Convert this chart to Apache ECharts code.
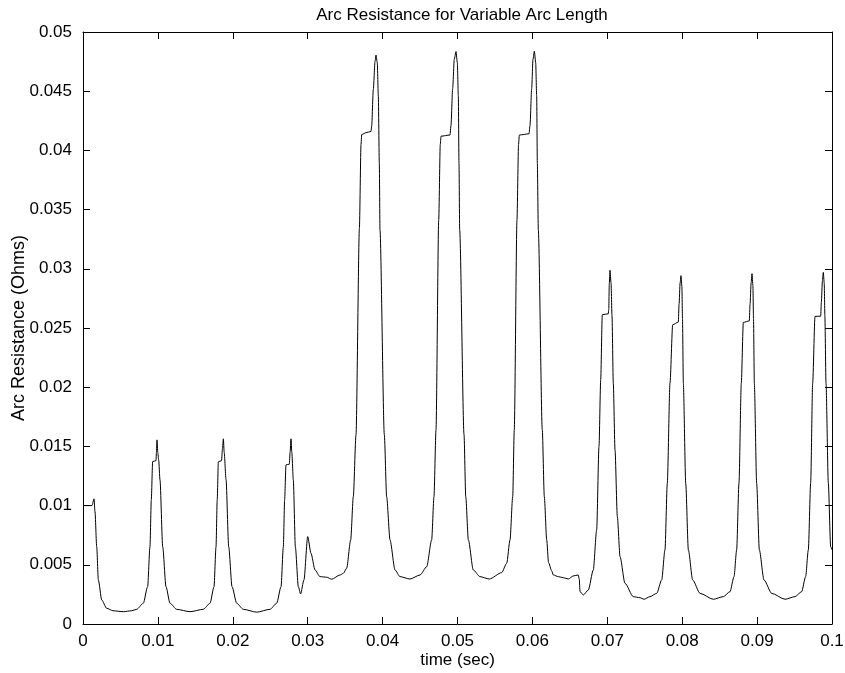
<!DOCTYPE html>
<html>
<head>
<meta charset="utf-8">
<script src="https://cdn.jsdelivr.net/npm/echarts@6/dist/echarts.min.js"></script>
<style>html,body{margin:0;padding:0;background:#fff}#c{width:845px;height:673px}</style>
</head>
<body>
<div id="c"></div>
<script>
const chartTitle = "Arc Resistance for Variable Arc Length";
const xName = "time (sec)";
const yName = "Arc Resistance (Ohms)";
const xTicks = ["0","0.01","0.02","0.03","0.04","0.05","0.06","0.07","0.08","0.09","0.1"];
const yTicks = ["0","0.005","0.01","0.015","0.02","0.025","0.03","0.035","0.04","0.045","0.05"];

const time = [
0,0.0012,0.00147,0.0016,0.00183,0.00205,0.0025,0.00316,0.004,0.00538,0.0065,0.00716,0.00805,0.00863,0.00894,0.00912,0.0093,0.00975,0.0098,0.00988,0.00998,0.0101,0.01028,0.01064,0.01108,0.01162,0.0125,0.01429,0.01606,0.01696,0.01749,0.01776,0.01792,0.01807,0.0185,0.01862,0.01874,0.01885,0.0191,0.01945,0.0199,0.02052,0.0214,0.02319,0.02497,0.02586,0.02644,0.02675,0.02692,0.0271,0.02755,0.02765,0.02777,0.02788,0.02808,0.02835,0.02875,0.02905,0.0295,0.03,0.03044,0.03098,0.03164,0.03254,0.0332,0.03431,
0.03476,0.0352,0.03574,0.03609,0.03645,0.0369,0.03712,0.03721,0.0378,0.03845,0.03854,0.03876,0.03899,0.03912,0.03929,0.03943,0.03956,0.03965,0.04023,0.04054,0.04099,0.04166,0.04232,0.04366,0.045,0.04589,0.04655,0.04686,0.04713,0.04749,0.0477,0.0478,0.049,0.04913,0.04935,0.04957,0.0498,0.04998,0.05011,0.0502,0.05029,0.05087,0.0511,0.05145,0.05211,0.053,0.05425,0.0559,0.05657,0.05701,0.05737,0.05758,0.05794,0.05815,0.05826,0.05955,0.05968,0.0599,0.06008,0.06026,0.06044,0.06057,0.06066,0.06079,0.06132,0.06159,0.06191,0.06215,0.06257,0.06279,0.06346,0.06413,0.0648,0.06546,0.06613,0.06625,0.06636,0.0668,0.06746,0.06813,0.06858,0.06889,0.06912,0.06933,0.07013,0.07019,0.07027,0.07036,0.0705,0.07063,
0.0708,0.07103,0.07134,0.0717,0.07236,0.07347,0.07437,0.0749,0.0757,0.0766,0.07726,0.0777,0.07801,0.07837,0.07873,0.07948,0.07958,0.07972,0.07984,0.07996,0.08004,0.08015,0.08047,0.08082,0.0814,0.08238,0.08415,0.08549,0.08638,0.08692,0.08727,0.08758,0.08789,0.08816,0.08896,0.08906,0.0892,0.08932,0.08944,0.08952,0.08963,0.08994,0.0903,0.09092,0.09195,0.09373,0.09506,0.09595,0.09648,0.09684,0.09715,0.09742,0.09773,0.09849,0.09858,0.09872,0.09884,0.09896,0.09905,0.0992,0.09951,0.09982,0.1
];
const resistance = [
0.0100,0.0100,0.01057,0.0095,0.00653,0.00372,0.00203,0.00133,0.00112,0.00104,0.00112,0.00124,0.00175,0.00315,0.00653,0.0105,0.01372,0.0138,0.0145,0.01555,0.0145,0.01386,0.01217,0.00653,0.00315,0.00175,0.00124,0.00104,0.00124,0.00175,0.00315,0.00653,0.0105,0.0137,0.0138,0.0148,0.01564,0.0145,0.01217,0.00653,0.00315,0.00175,0.00124,0.00100,0.00124,0.00175,0.00315,0.00653,0.0105,0.01344,0.0135,0.0145,0.01564,0.0145,0.01217,0.00653,0.00315,0.00254,0.00372,0.00738,0.00597,0.00456,0.0040,0.00395,0.00378,0.00414,
0.00428,0.00471,0.0071,0.01076,0.0160,0.0334,0.0405,0.04134,0.0415,0.0416,0.04204,0.04514,0.04753,0.04805,0.0474,0.04457,0.03894,0.0333,0.0160,0.01076,0.0071,0.00456,0.0040,0.0038,0.00414,0.00484,0.0071,0.01076,0.0164,0.0341,0.0405,0.0412,0.0413,0.0421,0.0452,0.0477,0.04835,0.0474,0.0446,0.0389,0.0333,0.0160,0.01076,0.0071,0.00456,0.0040,0.0038,0.00434,0.00513,0.0071,0.01076,0.0164,0.0341,0.0405,0.0413,0.0414,0.0421,0.0452,0.0477,0.04838,0.0474,0.0446,0.0389,0.0333,0.0164,0.01076,0.0071,0.0052,0.0045,0.00414,0.0040,0.00391,0.0038,0.00406,0.00414,0.0038,0.00273,0.00245,0.00287,0.00456,0.00795,0.01499,0.02063,0.02612,0.0262,0.02654,0.0288,0.02987,0.0288,0.0260,
0.02035,0.01471,0.00907,0.00569,0.00344,0.00231,0.00222,0.00209,0.00231,0.00259,0.00372,0.00626,0.01189,0.02035,0.02527,0.0255,0.0270,0.0288,0.02942,0.0285,0.0258,0.02035,0.01189,0.00626,0.00372,0.00259,0.00209,0.00231,0.00273,0.0040,0.00626,0.01189,0.02035,0.02547,0.0256,0.0270,0.0288,0.02959,0.0286,0.0258,0.02035,0.01189,0.00626,0.00372,0.00259,0.00209,0.00231,0.00273,0.0040,0.00626,0.01189,0.02035,0.02598,0.0260,0.0272,0.0290,0.0297,0.0288,0.0260,0.02035,0.01189,0.00653,0.00626
];

const seriesData = time.map((t, i) => [t, resistance[i]]);
const FONT = "'Liberation Sans', Arial, Helvetica, sans-serif";

function fmtX(v){ const i = Math.round(v / 0.01); return xTicks[i] !== undefined ? xTicks[i] : ''; }
function fmtY(v){ const i = Math.round(v / 0.005); return yTicks[i] !== undefined ? yTicks[i] : ''; }

const axisCommon = {
  type: 'value',
  axisLine: { show: true, onZero: false, lineStyle: { color: '#000', width: 1 } },
  axisTick: { show: true, inside: true, length: 7, lineStyle: { color: '#000', width: 1 } },
  splitLine: { show: false },
  minorTick: { show: false }
};

const chart = echarts.init(document.getElementById('c'), null, { renderer: 'canvas' });
chart.setOption({
  animation: false,
  backgroundColor: '#fff',
  title: {
    text: chartTitle,
    left: 457, top: 2, textAlign: 'center',
    textStyle: { fontFamily: FONT, fontSize: 17, fontWeight: 'normal', color: '#000' }
  },
  grid: { left: 83, right: 13, top: 32, bottom: 49, containLabel: false, outerBoundsMode: 'none' },
  xAxis: [
    Object.assign({}, axisCommon, {
      position: 'bottom', min: 0, max: 0.1, interval: 0.01,
      name: xName, nameLocation: 'middle', nameGap: 28, nameMoveOverlap: false,
      nameTextStyle: { fontFamily: FONT, fontSize: 17, color: '#000', verticalAlign: 'top' },
      axisLabel: { show: true, margin: 9, fontFamily: FONT, fontSize: 17, color: '#000', formatter: fmtX, showMinLabel: true, showMaxLabel: true }
    }),
    Object.assign({}, axisCommon, {
      position: 'top', min: 0, max: 0.1, interval: 0.01,
      axisLabel: { show: false }
    })
  ],
  yAxis: [
    Object.assign({}, axisCommon, {
      position: 'left', min: 0, max: 0.05, interval: 0.005,
      name: yName, nameLocation: 'middle', nameGap: 55, nameRotate: 90, nameMoveOverlap: false,
      nameTextStyle: { fontFamily: FONT, fontSize: 18, color: '#000' },
      axisLabel: { show: true, margin: 11, fontFamily: FONT, fontSize: 17, color: '#000', formatter: fmtY, showMinLabel: true, showMaxLabel: true }
    }),
    Object.assign({}, axisCommon, {
      position: 'right', min: 0, max: 0.05, interval: 0.005,
      axisLabel: { show: false }
    })
  ],
  series: [{
    type: 'line',
    xAxisIndex: 0, yAxisIndex: 0,
    data: seriesData,
    showSymbol: false,
    symbol: 'none',
    smooth: 0.25,
    smoothMonotone: 'x',
    lineStyle: { color: '#000', width: 1 },
    emphasis: { disabled: true }
  }]
});
</script>
</body>
</html>
